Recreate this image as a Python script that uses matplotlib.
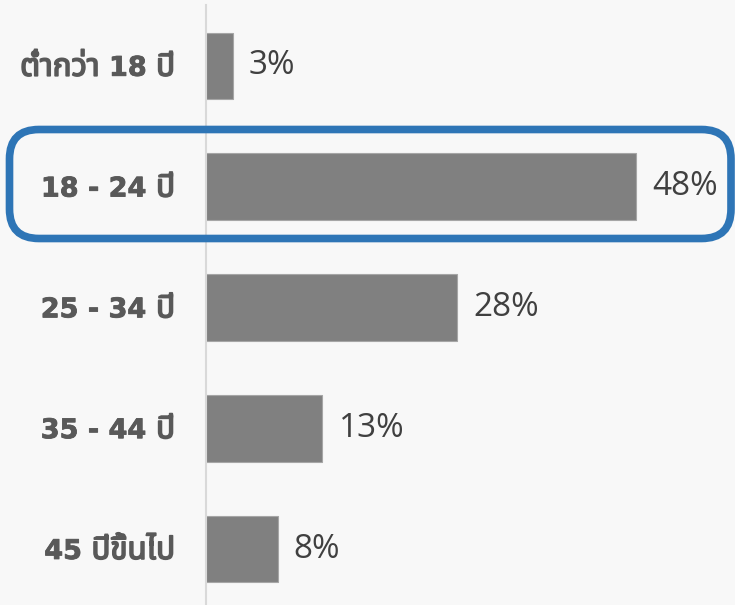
import matplotlib
matplotlib.use("Agg")
import matplotlib.pyplot as plt
import matplotlib.patheffects as pe
from matplotlib.patches import FancyBboxPatch

# age groups and share of respondents (%)
categories = ["ต่ำกว่า 18 ปี", "18 - 24 ปี", "25 - 34 ปี", "35 - 44 ปี", "45 ปีขึ้นไป"]
values = [3, 48, 28, 13, 8]
value_labels = ["3%", "48%", "28%", "13%", "8%"]

thai_fonts = ['Tahoma', 'Noto Sans Thai', 'Noto Sans Thai UI', 'Loma', 'Garuda',
              'Waree', 'Kinnari', 'Norasi', 'Sarabun', 'Laksaman', 'DejaVu Sans']
latin_fonts = ['DejaVu Sans']

LABEL_SIZE = 19.5
THAI_SIZE = 22.5
LABEL_COLOR = "#595959"


def is_thai(ch):
    return '\u0e00' <= ch <= '\u0e7f'


def split_runs(s):
    # split a label into latin / thai pieces, remember where a space sat between them
    runs = []
    for ch in s:
        if ch == ' ':
            if runs:
                runs[-1][0] += ch
            continue
        t = is_thai(ch)
        if runs and runs[-1][1] == t:
            runs[-1][0] += ch
        else:
            runs.append([ch, t])
    return [(txt.strip(), t, txt.endswith(' ')) for txt, t in runs]


def draw_label(ax, renderer, x, y, label):
    # draw the runs right to left so thai and latin each get their own font
    offset_px = 0.0
    space_px = 0.35 * LABEL_SIZE * 100 / 72
    base_pt = -0.729 * LABEL_SIZE / 2
    for txt, t, gap in reversed(split_runs(label)):
        if gap:
            offset_px += space_px
        kw = dict(xy=(x, y), xycoords="data",
                  xytext=(-offset_px * 72 / 100, base_pt), textcoords="offset points",
                  ha="right", va="baseline", color=LABEL_COLOR,
                  fontweight="bold", annotation_clip=False)
        if t:
            a = ax.annotate(txt, family=thai_fonts, fontsize=THAI_SIZE,
                            path_effects=[pe.withStroke(linewidth=1.2, foreground=LABEL_COLOR)],
                            **kw)
        else:
            a = ax.annotate(txt, family=latin_fonts, fontsize=LABEL_SIZE,
                            path_effects=[pe.withStroke(linewidth=0.6, foreground=LABEL_COLOR)],
                            **kw)
        offset_px += a.get_window_extent(renderer).width


bg = "#f8f8f8"
fig = plt.figure(figsize=(7.35, 6.05), dpi=100, facecolor=bg)
ax = fig.add_axes([206 / 735, -4.5 / 605, (735 - 206) / 735, 604 / 605])
ax.set_facecolor(bg)

ypos = list(range(len(categories)))
ax.barh(ypos, values, height=0.55, color="#808080", edgecolor="#a6a6a6", linewidth=0.8)
ax.set_ylim(len(categories) - 0.5, -0.5)
ax.set_xlim(0, 529 / 8.96)

for y, v, lab in zip(ypos, values, value_labels):
    ax.text(v + 1.8, y, lab, va="center", ha="left", fontsize=24,
            color="#404040", family=['Open Sans', 'DejaVu Sans'])

renderer = fig.canvas.get_renderer()
for y, cat in zip(ypos, categories):
    draw_label(ax, renderer, -31 / 8.96, y, cat)

for s in ["top", "right", "bottom"]:
    ax.spines[s].set_visible(False)
ax.spines["left"].set_color("#d9d9d9")
ax.spines["left"].set_linewidth(1.5)
ax.set_xticks([])
ax.set_yticks([])

# rounded box around the 18 - 24 group (figure pixel coords)
x0, x1 = 9.5 / 735, 731 / 735
y_top, y_bot = 1 - 129.5 / 605, 1 - 238.5 / 605
box = FancyBboxPatch((x0, y_bot), x1 - x0, y_top - y_bot,
                     boxstyle="round,pad=0,rounding_size=0.04",
                     transform=fig.transFigure, fill=False,
                     edgecolor="#2e75b6", linewidth=5.5,
                     mutation_aspect=735 / 605)
fig.patches.append(box)

fig.savefig("out.png", dpi=100, facecolor=bg)
